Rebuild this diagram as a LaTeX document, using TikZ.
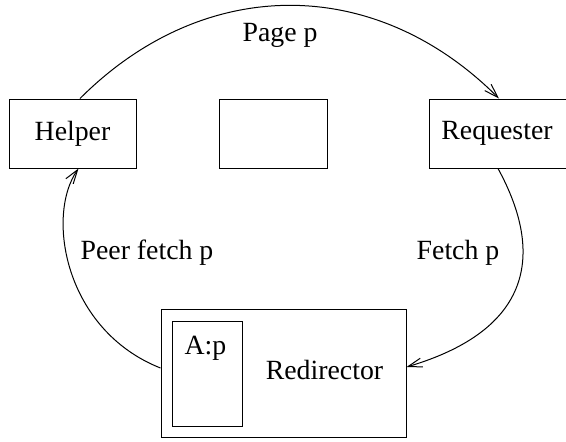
\documentclass[tikz,border=0pt]{standalone}
\usepackage{fontspec}
\setmainfont{Liberation Serif}
\usetikzlibrary{arrows.meta}
\begin{document}
\begin{tikzpicture}[x=0.5pt,y=-0.5pt,line width=0.5pt,
    font=\fontsize{13.9pt}{16pt}\selectfont,
    box/.style={draw,inner sep=0pt,minimum height=34.5pt},
    msg/.style={-{Straight Barb[length=7pt,width=4.5pt]}}]
    \useasboundingbox (0,0) rectangle (566,441);

    \node[box,minimum width=63.5pt] (helper) at (72.5,133.5) {Helper};
    \node[box,minimum width=54pt] (blank) at (273,133.5) {};
    % right side runs off the page
    \node[box,minimum width=72pt] (requester) at (501,133.5) {\hspace*{-4pt}Requester};

    \node[draw,inner sep=0pt,minimum width=122.5pt,minimum height=64pt] (redirector) at (283.5,373) {};
    \node[draw,inner sep=0pt,minimum width=35pt,minimum height=52.5pt] (table) at (207,373.5) {};
    \node (entry) at (205.5,348) {A:p};
    \node (redirname) at (324.5,370) {Redirector};

    \draw[msg] ([xshift=3.75pt]helper.north) .. controls +(124,-124) and +(-124,-124) .. ([xshift=-1pt]requester.north);
    \node (pagelbl) at (280,35) {Page p};

    \draw[msg] ([xshift=-1.5pt]requester.south) .. controls +(47,86) and +(125,-37) .. ([yshift=3pt]redirector.east);
    \node (fetchlbl) at (458,253) {Fetch p};

    \draw[msg] ([yshift=2.5pt]redirector.west) .. controls +(-96,-38) and +(-33,47) .. ([xshift=3pt]helper.south);
    \node (peerlbl) at (147,253) {Peer fetch p};
\end{tikzpicture}
\end{document}
